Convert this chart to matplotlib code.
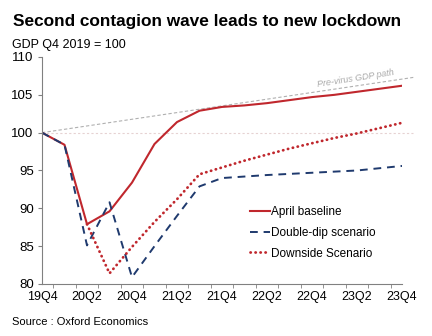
import numpy as np
import matplotlib
matplotlib.use('Agg')
import matplotlib.pyplot as plt

plt.rcParams.update({'font.family': ['Liberation Sans', 'DejaVu Sans'], 'font.size': 9})

quarters = ['19Q4', '20Q1', '20Q2', '20Q3', '20Q4', '21Q1', '21Q2', '21Q3', '21Q4',
            '22Q1', '22Q2', '22Q3', '22Q4', '23Q1', '23Q2', '23Q3', '23Q4']
baseline = [100, 98.4, 87.9, 89.6, 93.4, 98.5, 101.4, 102.9, 103.4,
            103.6, 103.9, 104.3, 104.7, 105.0, 105.4, 105.8, 106.2]
double_dip = [100, 98.4, 85.1, 90.8, 80.9, 85.0, 89.0, 92.9, 94.0,
              94.2, 94.4, 94.55, 94.7, 94.85, 95.0, 95.3, 95.6]
downside = [None, None, 87.9, 81.4, 84.9, 88.2, 91.2, 94.5, 95.4,
            96.3, 97.1, 97.9, 98.6, 99.3, 99.9, 100.6, 101.3]
pre_virus_x = [0, 16.5]
pre_virus_y = [100, 107.3]

red = '#C0272D'
navy = '#1F3A6E'

fig = plt.figure(figsize=(4.32, 3.36), dpi=100)
ax = fig.add_axes([0.0972, 0.1548, 0.8334, 0.6756])

x = np.arange(len(quarters))
dn = np.array([np.nan if v is None else v for v in downside], dtype=float)

# reference lines: flat 100 and pre-virus trend
ax.plot([0, 16.5], [100, 100], color='#E6D2D2', lw=0.8, ls=(0, (2, 2)), clip_on=False)
ax.plot(pre_virus_x, pre_virus_y, color='#B0B0B0', lw=0.8, ls=(0, (3, 2)), clip_on=False)
ax.text(13.95, 107.1, 'Pre-virus GDP path', color='#AAAAAA', fontsize=6.5, style='italic',
        rotation=9, ha='center', va='center')

ax.plot(x, baseline, color=red, lw=1.5, label='April baseline')
ax.plot(x, double_dip, color=navy, lw=1.4, ls=(0, (4, 3)), label='Double-dip scenario')
ax.plot(x, dn, color=red, lw=2.0, ls=(0, (0.1, 1.7)), dash_capstyle='round',
        label='Downside Scenario')

ax.set_xlim(0, 16)
ax.set_ylim(80, 110)
ax.set_yticks(range(80, 111, 5))
ax.set_xticks(x[::2])
ax.set_xticklabels(quarters[::2])
ax.set_xticks(np.arange(0.5, 16, 1), minor=True)
ax.tick_params(axis='x', which='major', length=0, pad=5, labelsize=9)
ax.tick_params(axis='x', which='minor', length=3, color='#808080')
ax.tick_params(axis='y', length=3, color='#808080', labelsize=9.5, pad=3)
for s in ['top', 'right']:
    ax.spines[s].set_visible(False)
for s in ['left', 'bottom']:
    ax.spines[s].set_color('#808080')
    ax.spines[s].set_linewidth(0.8)

ax.legend(loc='upper left', bbox_to_anchor=(0.565, 0.365), frameon=False, fontsize=8.5,
          handlelength=1.7, handletextpad=0.1, labelspacing=0.75, borderaxespad=0)

fig.text(0.03, 0.937, 'Second contagion wave leads to new lockdown', fontsize=12.4,
         fontweight='bold', va='center')
fig.text(0.028, 0.866, 'GDP Q4 2019 = 100', fontsize=9, va='center')
fig.text(0.028, 0.042, 'Source : Oxford Economics', fontsize=8, va='center')

fig.savefig('out.png', dpi=100)
